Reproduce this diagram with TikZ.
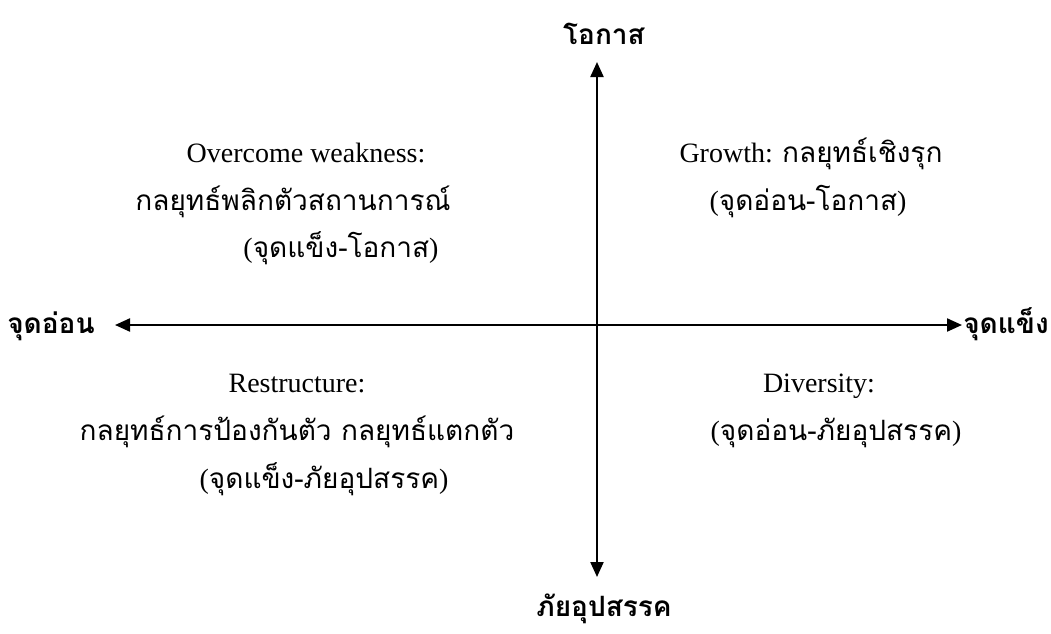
\documentclass[tikz,border=0pt]{standalone}
\usepackage{fontspec}
\setmainfont{Liberation Serif}
\newfontfamily\thai[Script=Thai]{Loma}
\usetikzlibrary{arrows.meta}
\begin{document}
\begin{tikzpicture}[x=0.5pt,y=-0.5pt,
  axis/.style={line width=1.1pt,-{Triangle[length=7.5pt,width=6.5pt]}},
  quad/.style={anchor=base,inner sep=0pt,font=\fontsize{14pt}{16pt}\selectfont},
  axlabel/.style={anchor=base,inner sep=0pt,font=\fontsize{14pt}{16pt}\selectfont\thai\bfseries}]
\useasboundingbox (0,0) rectangle (1051,633);

% axes
\coordinate (o) at (597,325);
\coordinate (top) at (597,62);
\coordinate (bottom) at (597,577);
\coordinate (left) at (115,325);
\coordinate (right) at (962,325);
\draw[axis] (o) -- (top);
\draw[axis] (o) -- (bottom);
\draw[axis] (o) -- (left);
\draw[axis] (o) -- (right);

% axis labels
\node[axlabel] (opp) at (604,44) {โอกาส};
\node[axlabel] (thr) at (604,616) {ภัยอุปสรรค};
\node[axlabel] (weak) at (51,333) {จุดอ่อน};
\node[axlabel] (str) at (1006,333) {จุดแข็ง};

% upper left quadrant
\node[quad] (ul1) at (306,162) {Overcome weakness:};
\node[quad] (ul2) at (293,210) {\thai กลยุทธ์พลิกตัวสถานการณ์};
\node[quad] (ul3) at (341,257) {(\thai จุดแข็ง-โอกาส\rmfamily)};

% upper right quadrant
\node[quad] (ur1) at (811,162) {Growth: {\thai กลยุทธ์เชิงรุก}};
\node[quad] (ur2) at (808,210) {(\thai จุดอ่อน-โอกาส\rmfamily)};

% lower left quadrant
\node[quad] (ll1) at (297,392) {Restructure:};
\node[quad] (ll2) at (297,440) {\thai กลยุทธ์การป้องกันตัว กลยุทธ์แตกตัว};
\node[quad] (ll3) at (324,488) {(\thai จุดแข็ง-ภัยอุปสรรค\rmfamily)};

% lower right quadrant
\node[quad] (lr1) at (819,392) {Diversity:};
\node[quad] (lr2) at (836,440) {(\thai จุดอ่อน-ภัยอุปสรรค\rmfamily)};
\end{tikzpicture}
\end{document}
